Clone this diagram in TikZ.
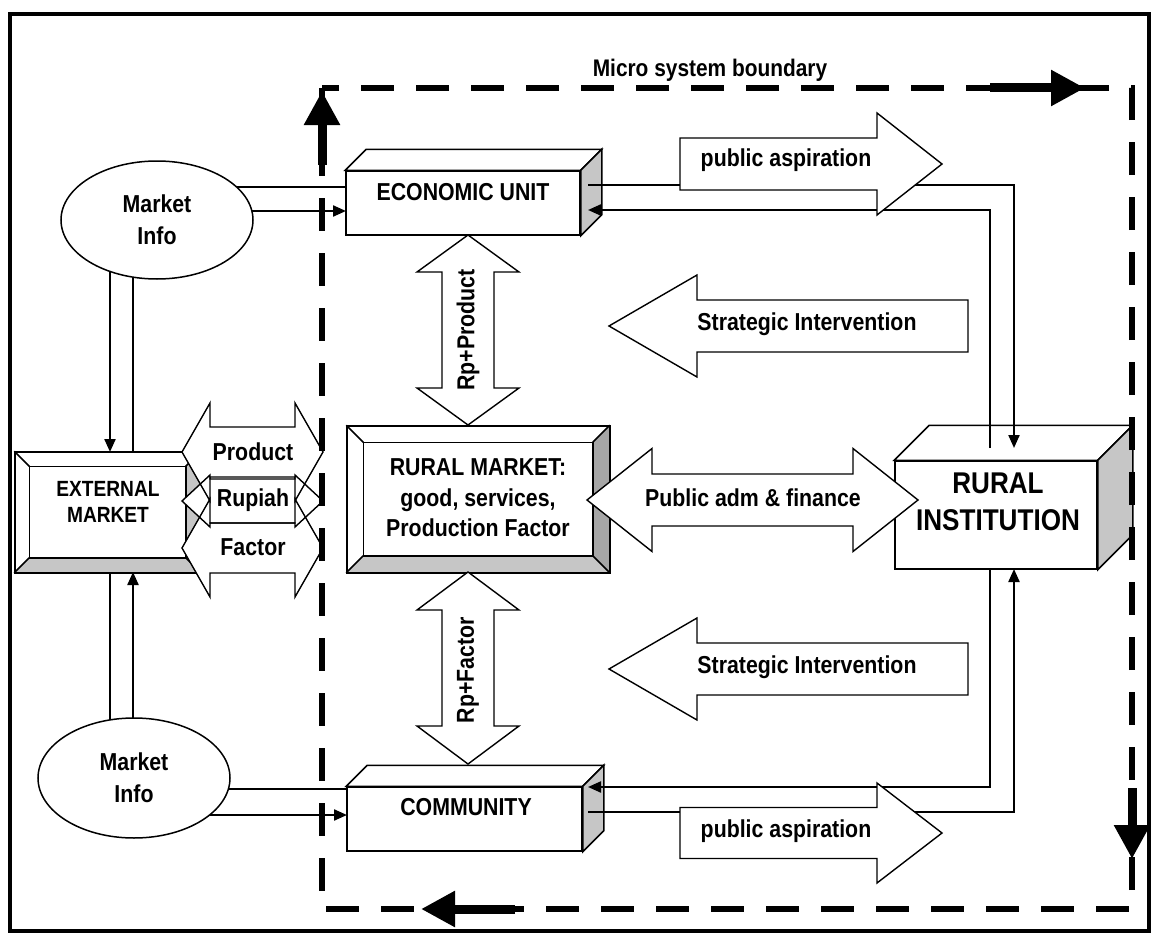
\documentclass[tikz,border=0pt]{standalone}
\usepackage{fontspec}
\setmainfont{Liberation Sans}[FakeStretch=0.87]
\usetikzlibrary{shapes.geometric,arrows.meta,backgrounds}

% block arrow with one head: tail x, centre y, head base x, tip x, head half width, shaft half width
\newcommand{\sglarrow}[6]{%
  \draw[blockarrow] (#1,{#2-#6}) -- (#3,{#2-#6}) -- (#3,{#2-#5}) -- (#4,#2) -- (#3,{#2+#5}) -- (#3,{#2+#6}) -- (#1,{#2+#6}) -- cycle;}
% block arrow with two heads, horizontal: centre x, centre y, half length, head length, head half width, shaft half width
\newcommand{\hdblarrow}[7][]{%
  \draw[blockarrow,#1] ({#2-#4},#3) -- ++(#5,-#6) -- ++(0,{#6-#7}) -- ++({2*#4-2*#5},0) -- ++(0,{#7-#6}) -- ++(#5,#6) -- ++(-#5,#6) -- ++(0,{#7-#6}) -- ++({2*#5-2*#4},0) -- ++(0,{#6-#7}) -- cycle;}
% same, vertical
\newcommand{\vdblarrow}[6]{%
  \draw[blockarrow] (#1,{#2-#3}) -- ++(-#5,#4) -- ++({#5-#6},0) -- ++(0,{2*#3-2*#4}) -- ++({#6-#5},0) -- ++(#5,#4) -- ++(#5,-#4) -- ++({#6-#5},0) -- ++(0,{2*#4-2*#3}) -- ++({#5-#6},0) -- cycle;}
% box seen from the front: top face and shaded side
\newcommand{\cuboid}[2]{%
  \draw[boxline,fill=white] (#1.north west) -- ++(#2,-#2) -- ([shift={(#2,-#2)}]#1.north east) -- (#1.north east) -- cycle;
  \draw[boxline,fill=gray!45] (#1.north east) -- ++(#2,-#2) -- ([shift={(#2,-#2)}]#1.south east) -- (#1.south east) -- cycle;}
% bevelled button box
\newcommand{\bevelbox}[3]{%
  \fill[gray!45] (#1.south west) -- ([shift={(#2,-#2)}]#1.south west) -- ([shift={(-#2,-#2)}]#1.south east) -- (#1.south east) -- cycle;
  \fill[#3] (#1.south east) -- ([shift={(-#2,-#2)}]#1.south east) -- ([shift={(-#2,#2)}]#1.north east) -- (#1.north east) -- cycle;
  \draw[boxline] ([shift={(#2,#2)}]#1.north west) rectangle ([shift={(-#2,-#2)}]#1.south east);
  \draw[boxline] (#1.north west) -- ++(#2,#2) (#1.north east) -- ++(-#2,#2)
    (#1.south west) -- ++(#2,-#2) (#1.south east) -- ++(-#2,-#2);
  \draw[boxline] (#1.north west) rectangle (#1.south east);}

\begin{document}
\begin{tikzpicture}[x=1pt,y=-1pt,
    lbl/.style={font=\fontsize{24.5}{30.5}\selectfont\bfseries, align=center, inner sep=0},
    box/.style={draw, fill=white, line width=1.5, inner sep=0},
    boxline/.style={line width=1.5},
    info/.style={ellipse, draw, fill=white, line width=1.5, minimum width=192, minimum height=118,
      inner sep=0, align=center, font=\fontsize{24.5}{32}\selectfont\bfseries},
    conn/.style={line width=2.2},
    blockarrow/.style={draw, fill=white, line width=1.4, line join=miter},
    boundary/.style={line width=6.5, dash pattern=on 33pt off 22pt},
    bndarrow/.style={line width=9, -{Triangle[length=34pt,width=34pt]}},
    >={Triangle[length=13pt,width=11pt]}]
\useasboundingbox (0,0) rectangle (1152,934);
\draw[line width=4] (10,14) rectangle (1149,931);

% market info and the boxes
\node[info] (infotop) at (157,220) {Market\\Info};
\node[info, minimum height=120] (infobot) at (134,778) {Market\\Info};
\node[box, minimum width=234, minimum height=64] (econ) at (463,203) {};
\node[box, minimum width=235, minimum height=64] (comm) at (464.5,819) {};
\node[box, minimum width=202, minimum height=108] (rinst) at (996,515) {};
\node[box, minimum width=262, minimum height=146] (rmkt) at (478,499) {};
\node[box, minimum width=185, minimum height=120] (extmkt) at (107.5,512) {};
\cuboid{econ}{21}
\cuboid{comm}{21}
\cuboid{rinst}{35}
\bevelbox{rmkt}{17}{gray!70}
\bevelbox{extmkt}{15}{gray!45}

\node[lbl] (econtxt) at (463,192) {ECONOMIC UNIT};
\node[lbl] (commtxt) at (466,807) {COMMUNITY};
\node[lbl, font=\fontsize{30}{37}\selectfont\bfseries] (rinsttxt) at (998,502) {RURAL\\INSTITUTION};
\node[lbl] (rmkttxt) at (478,498) {RURAL MARKET:\\good, services,\\Production Factor};
\node[lbl, font=\fontsize{22}{26}\selectfont\bfseries] (exttxt) at (108,502) {EXTERNAL\\MARKET};

% links of the market info
\coordinate (e1) at (346,187);
\coordinate (e2) at (346,211);
\coordinate (c1) at (347,789);
\coordinate (c2) at (347,815);
\coordinate (x1) at (110,452);
\coordinate (x2) at (133,452);
\coordinate (x3) at (110,572);
\coordinate (x4) at (133,572);
\begin{scope}[on background layer]
  \draw[conn] (e1 -| infotop) -- (e1);
  \draw[conn,->] (e2 -| infotop) -- (e2);
  \draw[conn] (c1 -| infobot) -- (c1);
  \draw[conn,->] (c2 -| infobot) -- (c2);
  \draw[conn,->] (x1 |- infotop) -- (x1);
  \draw[conn] (x2 |- infotop) -- (x2);
  \draw[conn] (x3 |- infobot) -- (x3);
  \draw[conn,->] (x4 |- infobot) -- (x4);
\end{scope}

% links of the rural institution
\coordinate (eo) at (588,185);
\coordinate (ei) at (588,210);
\coordinate (ci) at (588,787);
\coordinate (co) at (588,812);
\coordinate (rt1) at (990,448);
\coordinate (rt2) at (1014,448);
\coordinate (rb1) at (990,569);
\coordinate (rb2) at (1014,569);
\draw[conn,->] (eo) -| (rt2);
\draw[conn,->] (rt1) |- (ei);
\draw[conn,->] (rb1) |- (ci);
\draw[conn,->] (co) -| (rb2);

% block arrows
\sglarrow{680}{164}{877}{942}{51}{26}
\sglarrow{680}{833}{877}{942}{50}{25.5}
\sglarrow{968}{326}{697}{609}{51}{26}
\sglarrow{968}{669}{697}{609}{51}{26}
\hdblarrow{752.5}{500}{165.5}{65}{51.5}{26}
\vdblarrow{468}{330}{95}{37}{51}{26}
\vdblarrow{468}{668}{96}{38}{51}{26}
\hdblarrow[draw=none]{252.5}{452}{70.5}{28}{49}{25}
\hdblarrow[draw=none]{252.5}{548}{70.5}{28}{49}{25}
\hdblarrow[draw=none]{252.5}{501}{70.5}{28}{26}{22}
\hdblarrow[fill=none]{252.5}{452}{70.5}{28}{49}{25}
\hdblarrow[fill=none]{252.5}{548}{70.5}{28}{49}{25}
\hdblarrow[fill=none]{252.5}{501}{70.5}{28}{26}{22}

\node[lbl] (asp1) at (786,160) {public aspiration};
\node[lbl] (asp2) at (786,831) {public aspiration};
\node[lbl] (strat1) at (807,324) {Strategic Intervention};
\node[lbl] (strat2) at (807,667) {Strategic Intervention};
\node[lbl] (padm) at (753,498) {Public adm \& finance};
\node[lbl, rotate=90] (rpprod) at (468,330) {Rp+Product};
\node[lbl, rotate=90] (rpfact) at (468,670) {Rp+Factor};
\node[lbl] (prod) at (253,452) {Product};
\node[lbl] (rup) at (253,500) {Rupiah};
\node[lbl] (fact) at (253,547) {Factor};

% micro system boundary
\draw[boundary] (322,88) rectangle (1132,909);
\draw[bndarrow] (322,165) -- (322,91);
\draw[bndarrow] (990,88) -- (1085,88);
\draw[bndarrow] (1132,788) -- (1132,859);
\draw[bndarrow] (515,909) -- (421,909);
\node[lbl, font=\fontsize{24}{28}\selectfont\bfseries] (mtitle) at (710,70) {Micro system boundary};
\end{tikzpicture}
\end{document}
